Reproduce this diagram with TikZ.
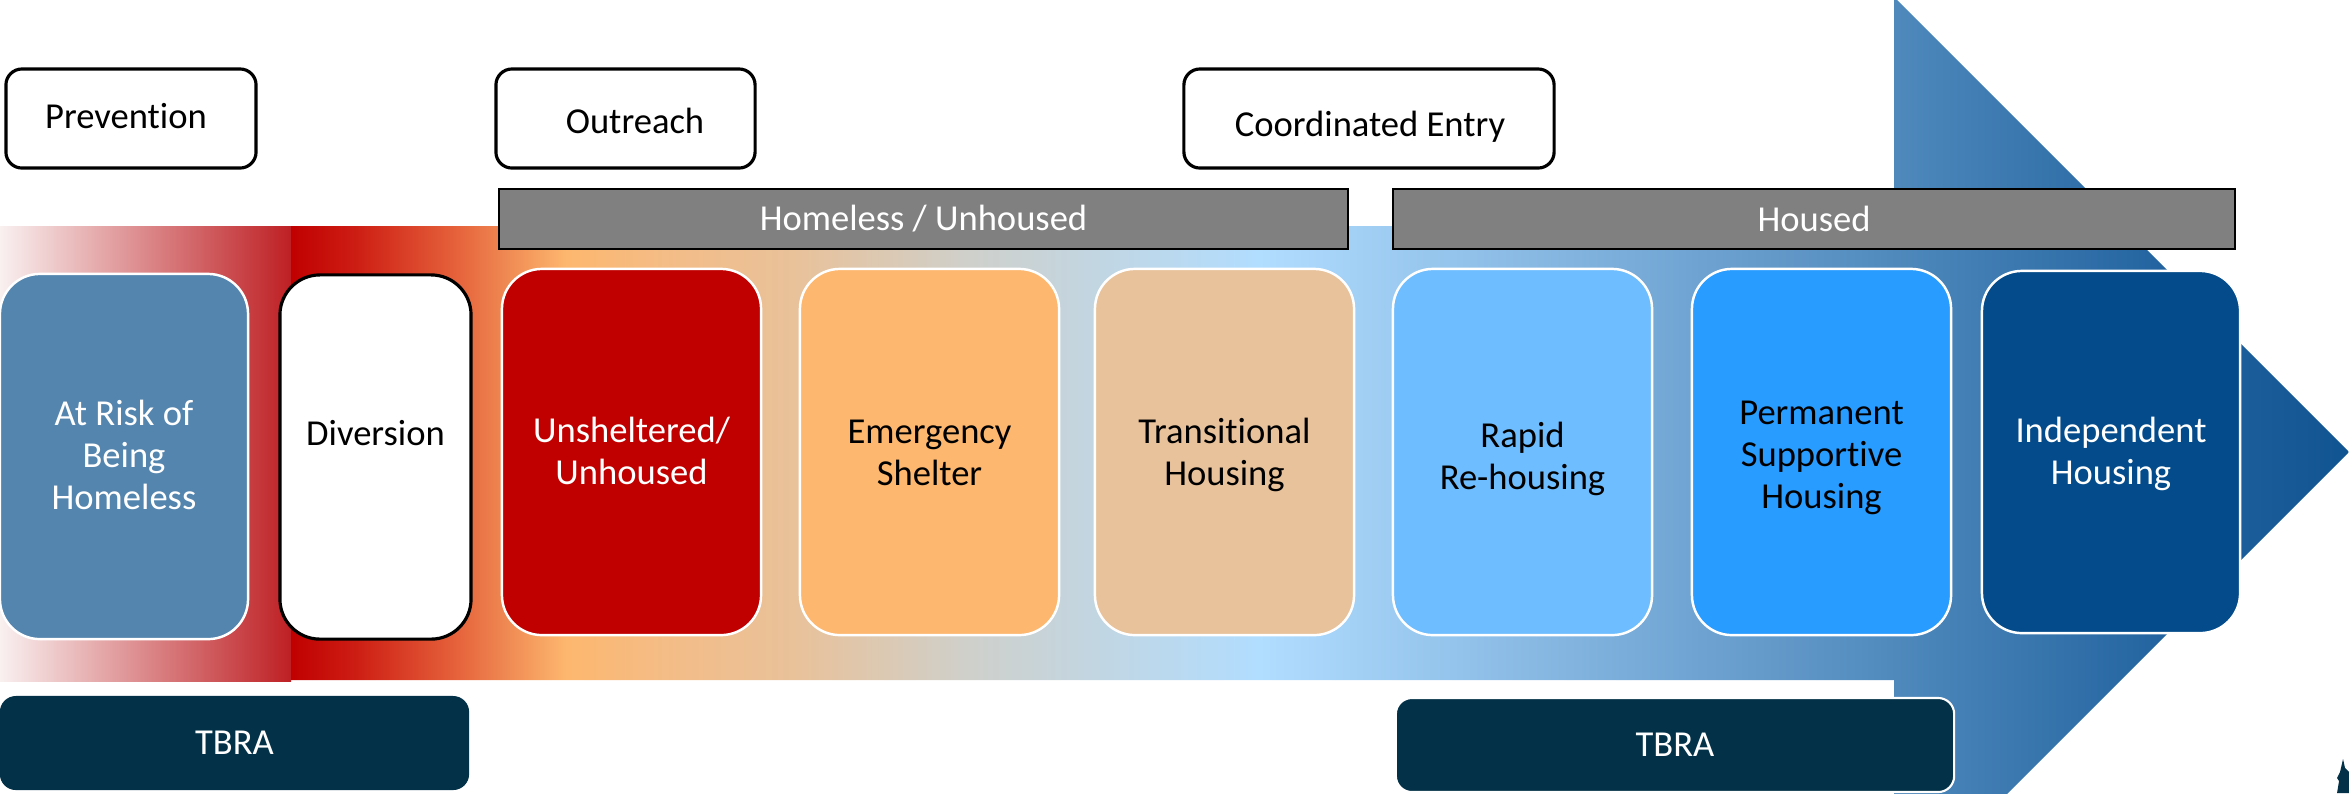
\documentclass[tikz,border=0pt]{standalone}
\usepackage{fontspec}
\setmainfont[Ligatures={NoCommon,NoContextual}]{Carlito}
\definecolor{c0}{RGB}{192,0,0}
\definecolor{c1}{RGB}{205,30,20}
\definecolor{c2}{RGB}{230,100,60}
\definecolor{c3}{RGB}{240,140,85}
\definecolor{c4}{RGB}{253,183,110}
\definecolor{c5}{RGB}{244,188,134}
\definecolor{c6}{RGB}{232,194,155}
\definecolor{c7}{RGB}{207,208,203}
\definecolor{c8}{RGB}{177,221,255}
\definecolor{c9}{RGB}{126,176,220}
\definecolor{c10}{RGB}{79,137,188}
\definecolor{c11}{RGB}{35,100,160}
\definecolor{c12}{RGB}{17,84,146}
\definecolor{pinkL}{RGB}{249,240,240}
\definecolor{pinkR}{RGB}{190,32,36}
\definecolor{steel}{RGB}{84,133,174}
\definecolor{redbox}{RGB}{192,0,0}
\definecolor{orangebox}{RGB}{253,183,110}
\definecolor{tanbox}{RGB}{232,194,155}
\definecolor{lightblue}{RGB}{110,189,254}
\definecolor{midblue}{RGB}{40,156,255}
\definecolor{darkblue}{RGB}{3,75,138}
\definecolor{navy}{RGB}{3,50,72}
\definecolor{barGray}{RGB}{128,128,128}
\pgfdeclarehorizontalshading{bandshade}{100bp}{%
color(0bp)=(c0); color(25bp)=(c0); color(26.6bp)=(c1); color(29.08bp)=(c2);
color(30.32bp)=(c3); color(31.68bp)=(c4); color(34.04bp)=(c5); color(37.37bp)=(c6);
color(41.45bp)=(c7); color(48.52bp)=(c8); color(56.8bp)=(c9); color(63.99bp)=(c10);
color(70.38bp)=(c11); color(75bp)=(c12); color(100bp)=(c12)}
\begin{document}
\begin{tikzpicture}[x=0.01cm,y=-0.01cm,
  every node/.style={font=\fontsize{10.4pt}{12pt}\selectfont},
  stage/.style={rectangle, rounded corners=0.4cm, draw=white, line width=0.7pt},
  stagetext/.style={align=center, inner sep=0pt},
  toplabel/.style={rectangle, rounded corners=0.16cm, draw=black, line width=0.9pt, fill=white},
  phase/.style={rectangle, draw=black, line width=0.6pt, fill=barGray, text=white, minimum height=0.6cm},
  tbra/.style={rectangle, rounded corners=0.16cm, fill=navy, text=white, minimum height=0.94cm}]
\useasboundingbox (0,0) rectangle (2349,793);
\clip (0,0) rectangle (2349,793);
% band / arrow
\shade[left color=pinkL, right color=pinkR] (0,226) rectangle (291,681);
\path[shading=bandshade] (291,226) -- (1894,226) -- (1894,-3) -- (2349,452) -- (1894,907) -- (1894,680) -- (291,680) -- cycle;
% top labels
\node[toplabel, minimum width=2.5cm, minimum height=0.99cm] (prev) at (131,118.5) {};
\node (prevt) at (126,116) {Prevention};
\node[toplabel, minimum width=2.59cm, minimum height=0.99cm] (outr) at (625.5,118.5) {};
\node (outrt) at (635,120.5) {Outreach};
\node[toplabel, minimum width=3.7cm, minimum height=0.99cm] (coord) at (1369,118.5) {};
\node (coordt) at (1370,127) {Coordinated Entry};
% phase bars
\node[phase, minimum width=8.49cm] (homeless) at (923.5,219) {Homeless / Unhoused};
\node[phase, minimum width=8.42cm] (housed) at (1814,219) {Housed};
% stage boxes
\node[stage, fill=steel, minimum width=2.48cm, minimum height=3.65cm] (b1) at (124,456.5) {};
\node[stage, fill=white, draw=black, line width=0.9pt, minimum width=1.91cm, minimum height=3.64cm] (b2) at (375.5,457) {};
\node[stage, fill=redbox, minimum width=2.59cm, minimum height=3.66cm] (b3) at (631.5,452) {};
\node[stage, fill=orangebox, minimum width=2.59cm, minimum height=3.66cm] (b4) at (929.5,452) {};
\node[stage, fill=tanbox, minimum width=2.59cm, minimum height=3.66cm] (b5) at (1224.5,452) {};
\node[stage, fill=lightblue, minimum width=2.59cm, minimum height=3.66cm] (b6) at (1522.5,452) {};
\node[stage, fill=midblue, minimum width=2.59cm, minimum height=3.66cm] (b7) at (1821.5,452) {};
\node[stage, fill=darkblue, minimum width=2.58cm, minimum height=3.62cm] (b8) at (2111,452) {};
\node[stagetext, text=white] (t1) at (124,455) {At Risk of\\Being\\Homeless};
\node[stagetext] (t2) at (375.5,433) {Diversion};
\node[stagetext, text=white] (t3) at (631.5,451) {Unsheltered/\\Unhoused};
\node[stagetext] (t4) at (929.5,453) {Emergency\\Shelter};
\node[stagetext] (t5) at (1224.5,455) {Transitional\\Housing};
\node[stagetext] (t6) at (1522.5,459) {Rapid\\Re-housing};
\node[stagetext] (t7) at (1821.5,458) {Permanent\\Supportive\\Housing};
\node[stagetext, text=white] (t8) at (2111,454) {Independent\\Housing};
% TBRA boxes
\node[tbra, minimum width=4.69cm] (tbra1) at (234.5,743) {TBRA};
\node[tbra, draw=white, line width=0.6pt, minimum width=5.58cm] (tbra2) at (1675,745) {TBRA};
% partial logo glyph
\fill[navy] (2343,759) -- (2340,772) -- (2337,778) -- (2339,781) -- (2337,793) -- (2349,793) -- (2349,772) -- (2345,768) -- cycle;
\end{tikzpicture}
\end{document}
